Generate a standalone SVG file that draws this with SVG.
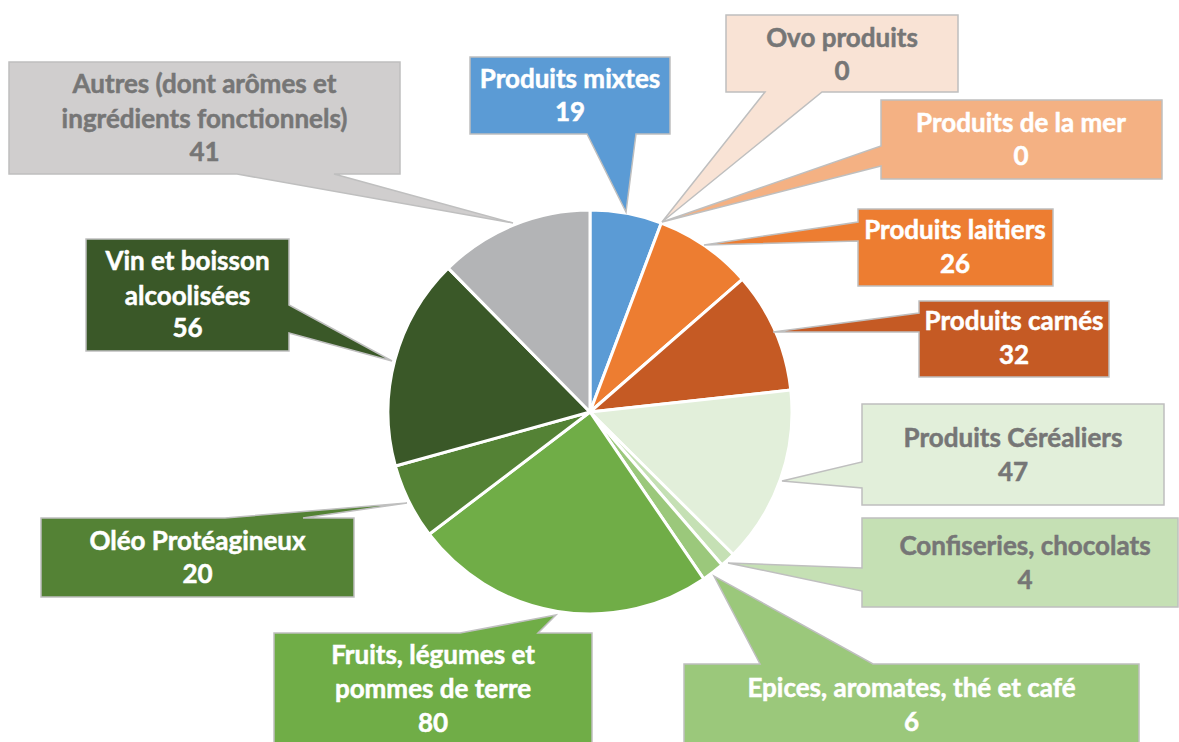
<svg xmlns="http://www.w3.org/2000/svg" width="1179" height="742" viewBox="0 0 1179 742">
<style>
.sl{stroke:#ffffff;stroke-width:3;stroke-linejoin:round}
.co{stroke:#bfbfbf;stroke-width:1.5;stroke-linejoin:miter}
text{font-family:Lato,"Liberation Sans",sans-serif;font-weight:bold;font-size:26px;text-anchor:middle;stroke-width:0.5}
.w{fill:#ffffff;stroke:#ffffff}
.g{fill:#767676;stroke:#767676}
</style>
<rect width="1179" height="742" fill="#ffffff"/>
<g id="pie">
<path class="sl" fill="#5b9bd5" d="M590,412 L590,210 A202,202 0 0 1 661.29,222.98 Z"/>
<path class="sl" fill="#ed7d31" d="M590,412 L661.29,222.98 A202,202 0 0 1 742.32,279.32 Z"/>
<path class="sl" fill="#c55a24" d="M590,412 L742.32,279.32 A202,202 0 0 1 790.80,390.00 Z"/>
<path class="sl" fill="#e2efda" d="M590,412 L790.80,390.00 A202,202 0 0 1 733.18,554.50 Z"/>
<path class="sl" fill="#c5e0b4" d="M590,412 L733.18,554.50 A202,202 0 0 1 721.96,564.96 Z"/>
<path class="sl" fill="#9bc87b" d="M590,412 L721.96,564.96 A202,202 0 0 1 703.72,578.95 Z"/>
<path class="sl" fill="#70ad47" d="M590,412 L703.72,578.95 A202,202 0 0 1 429.21,534.27 Z"/>
<path class="sl" fill="#548235" d="M590,412 L429.21,534.27 A202,202 0 0 1 395.35,465.98 Z"/>
<path class="sl" fill="#3a5828" d="M590,412 L395.35,465.98 A202,202 0 0 1 448.18,268.15 Z"/>
<path class="sl" fill="#b3b4b6" d="M590,412 L448.18,268.15 A202,202 0 0 1 590,210 Z"/>
</g>
<g id="connectors"></g>
<g id="autres">
<path class="co" fill="#d0cece" d="M9,62 H400 V174 H334 L513,223 L237,174 H9 Z"/>
<text class="g" x="204.5" y="93">Autres (dont arômes et</text>
<text class="g" x="204.5" y="128">ingrédients fonctionnels)</text>
<text class="g" x="204.5" y="161">41</text>
</g>
<g id="vin">
<path class="co" fill="#3a5828" d="M86,239 H289 V305 L392,361 L289,333 V351 H86 Z"/>
<text class="w" x="187.5" y="270">Vin et boisson</text>
<text class="w" x="187.5" y="305">alcoolisées</text>
<text class="w" x="187.5" y="337">56</text>
</g>
<g id="mixtes">
<path class="co" fill="#5b9bd5" d="M470,57 H670 V134 H636 L626,212 L587,134 H470 Z"/>
<text class="w" x="570" y="88">Produits mixtes</text>
<text class="w" x="570" y="121">19</text>
</g>
<g id="ovo">
<path class="co" fill="#f9e3d5" d="M726,15 H958 V92 H822 L662,222 L765,92 H726 Z"/>
<text class="g" x="842" y="47">Ovo produits</text>
<text class="g" x="842" y="80">0</text>
</g>
<g id="mer">
<path class="co" fill="#f4b183" d="M881,100 H1162 V179 H881 V166 L662,222 L881,146 Z"/>
<text class="w" x="1021" y="132">Produits de la mer</text>
<text class="w" x="1021" y="165">0</text>
</g>
<g id="laitiers">
<path class="co" fill="#ed7d31" d="M858,209 H1053 V286 H858 V241 L704,245 L858,222 Z"/>
<text class="w" x="955" y="239">Produits laitiers</text>
<text class="w" x="955" y="273">26</text>
</g>
<g id="carnes">
<path class="co" fill="#c55a24" d="M919,301 H1109 V377 H919 V332 L773,332 L919,313 Z"/>
<text class="w" x="1014" y="330">Produits carnés</text>
<text class="w" x="1014" y="364">32</text>
</g>
<g id="cerealiers">
<path class="co" fill="#e2efda" d="M862,404 H1164 V505 H862 V488 L782,481 L862,462 Z"/>
<text class="g" x="1013" y="447">Produits Céréaliers</text>
<text class="g" x="1013" y="481">47</text>
</g>
<g id="confiseries">
<path class="co" fill="#c5e0b4" d="M862,518 H1178 V607 H862 V591 L728,563 L862,568 Z"/>
<text class="g" x="1025" y="555">Confiseries, chocolats</text>
<text class="g" x="1025" y="589">4</text>
</g>
<g id="epices">
<path class="co" fill="#9bc87b" d="M684,664 H760 L714,576 L873,664 H1139 V745 H684 Z"/>
<text class="w" x="911.5" y="697">Epices, aromates, thé et café</text>
<text class="w" x="911.5" y="731">6</text>
</g>
<g id="oleo">
<path class="co" fill="#548235" d="M41,518 H225 L407,503 L303,518 H354 V597 H41 Z"/>
<text class="w" x="197.5" y="550">Oléo Protéagineux</text>
<text class="w" x="197.5" y="583">20</text>
</g>
<g id="fruits">
<path class="co" fill="#70ad47" d="M274,633 H460 L556,615 L538,633 H592 V745 H274 Z"/>
<text class="w" x="433" y="664">Fruits, légumes et</text>
<text class="w" x="433" y="698">pommes de terre</text>
<text class="w" x="433" y="732">80</text>
</g>
</svg>
